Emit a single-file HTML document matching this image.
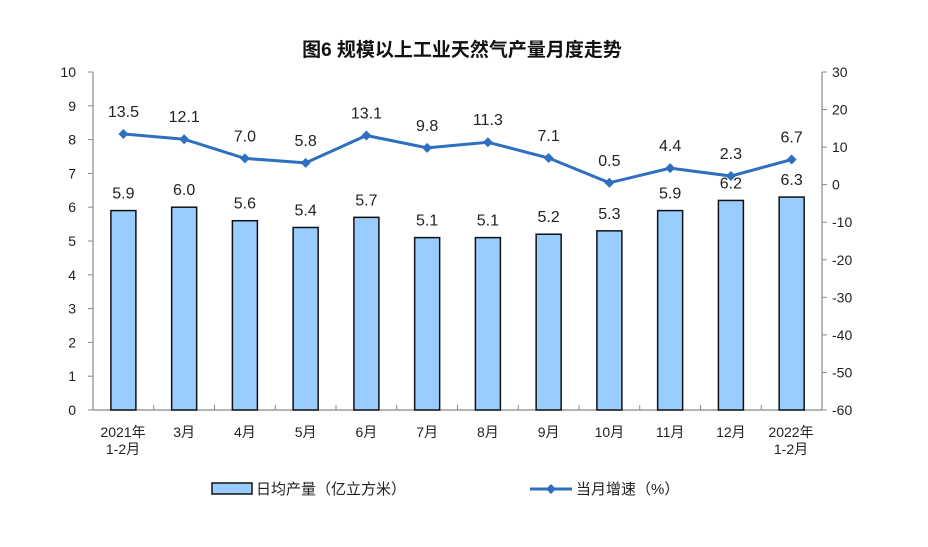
<!DOCTYPE html>
<html><head><meta charset="utf-8"><style>
body{margin:0;background:#fff;}
text{font-family:"Liberation Sans","Noto Sans CJK SC",sans-serif;}
</style></head><body>
<svg width="928" height="542" xmlns="http://www.w3.org/2000/svg">
<rect width="928" height="542" fill="#fff"/>
<text x="462" y="56" font-size="19" text-anchor="middle" font-weight="bold" fill="#111">图6  规模以上工业天然气产量月度走势</text>
<g stroke="#888" stroke-width="1.2" fill="none">
<line x1="93" y1="72" x2="93" y2="410"/>
<line x1="822" y1="72" x2="822" y2="410"/>
<line x1="93" y1="410" x2="822" y2="410"/>
</g>
<g id="lt" stroke="#888" stroke-width="1"></g>
<g id="lab" font-size="14" fill="#222" style="font-family:'Liberation Serif',serif"></g>
<g id="bars"></g>
<script>
var NS="http://www.w3.org/2000/svg";
function el(p,t,a,txt){var e=document.createElementNS(NS,t);for(var k in a)e.setAttribute(k,a[k]);if(txt!=null)e.textContent=txt;document.getElementById(p).appendChild(e);return e;}
for(var i=0;i<=10;i++){var y=410-i*33.8;el('lt','line',{x1:88,y1:y,x2:93,y2:y});el('lab','text',{x:76,y:y+5,'text-anchor':'end'},i);}
for(var i=0;i<=9;i++){var v=30-i*10;var y=72+i*37.556;el('lt','line',{x1:822,y1:y,x2:827,y2:y});el('lab','text',{x:832,y:y+5},v);}
for(var i=1;i<12;i++){var x=93+i*60.75;el('lt','line',{x1:x,y1:410,x2:x,y2:405});}
var bars=[5.9,6.0,5.6,5.4,5.7,5.1,5.1,5.2,5.3,5.9,6.2,6.3];
var ln=[13.5,12.1,7.0,5.8,13.1,9.8,11.3,7.1,0.5,4.4,2.3,6.7];
var cats=["3月","4月","5月","6月","7月","8月","9月","10月","11月","12月"];
var pts=[];
for(var i=0;i<12;i++){var cx=123.4+i*60.75;var h=bars[i]*33.8;
el('bars','rect',{x:cx-12.5,y:410-h,width:25,height:h,fill:'#99ccff',stroke:'#111','stroke-width':1.5});
el('bars','text',{x:cx,y:410-h-12,'text-anchor':'middle','font-size':16,fill:'#222'},bars[i].toFixed(1));
var ly=72+(30-ln[i])*3.756;pts.push(cx+','+ly);
el('bars','text',{x:cx,y:ly-17,'text-anchor':'middle','font-size':16,fill:'#222'},ln[i].toFixed(1));
if(i>0&&i<11)el('lab','text',{x:cx,y:437,'text-anchor':'middle'},cats[i-1]);}
el('bars','polyline',{points:pts.join(' '),fill:'none',stroke:'#2e6fc0','stroke-width':3});
pts.forEach(function(p){var a=p.split(',');var x=+a[0],y=+a[1];el('bars','polygon',{points:(x-5)+','+y+' '+x+','+(y-5)+' '+(x+5)+','+y+' '+x+','+(y+5),fill:'#2e6fc0'});});
el('lab','text',{x:123,y:437,'text-anchor':'middle'},'2021年');
el('lab','text',{x:123,y:454,'text-anchor':'middle'},'1-2月');
el('lab','text',{x:791,y:437,'text-anchor':'middle'},'2022年');
el('lab','text',{x:791,y:454,'text-anchor':'middle'},'1-2月');
el('bars','rect',{x:212,y:483,width:40,height:11,fill:'#99ccff',stroke:'#111','stroke-width':1.5});
el('bars','text',{x:256,y:494,'font-size':15,fill:'#222'},'日均产量（亿立方米）');
el('bars','line',{x1:530,y1:489,x2:572,y2:489,stroke:'#2e6fc0','stroke-width':3});
el('bars','polygon',{points:'546,489 551,484 556,489 551,494',fill:'#2e6fc0'});
el('bars','text',{x:576,y:494,'font-size':15,fill:'#222'},'当月增速（%）');
</script>
</svg>
</body></html>
